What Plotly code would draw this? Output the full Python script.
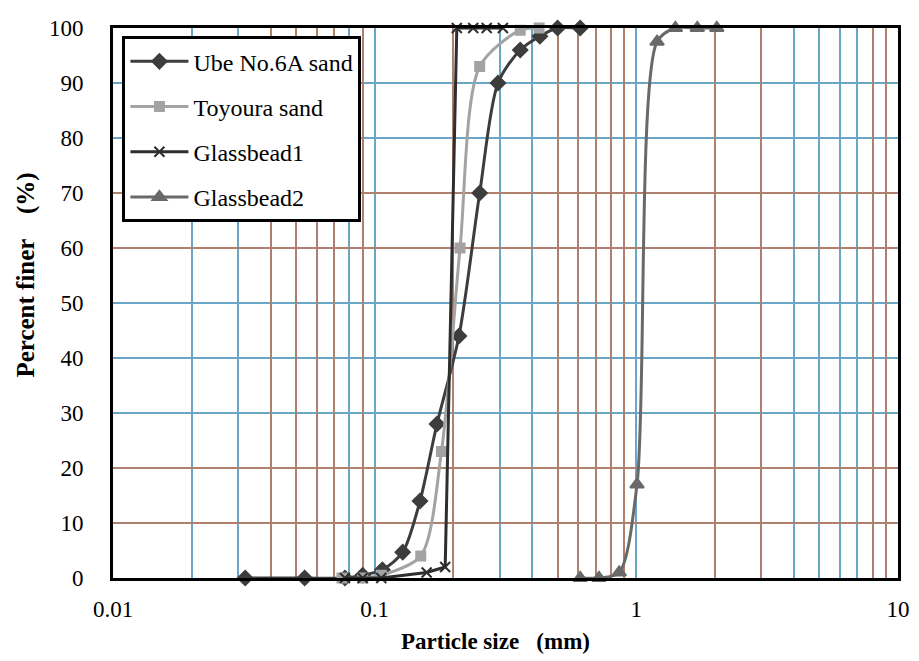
import plotly.graph_objects as go

# Grain size distribution curves
ube_size = [0.032, 0.054, 0.077, 0.09, 0.107, 0.128, 0.149, 0.173, 0.21, 0.252, 0.296, 0.36, 0.428, 0.5, 0.61]
ube_finer = [0, 0, 0, 0.5, 1.5, 4.7, 14, 28, 44, 70, 90, 96, 98.5, 100, 100]

toyoura_size = [0.075, 0.09, 0.106, 0.15, 0.18, 0.212, 0.252, 0.36, 0.425]
toyoura_finer = [0, 0, 0.5, 4, 23, 60, 93, 99.6, 100]

gb1_size = [0.077, 0.09, 0.106, 0.158, 0.186, 0.206, 0.238, 0.268, 0.309]
gb1_finer = [0, 0, 0, 1, 2, 100, 100, 100, 100]

gb2_size = [0.61, 0.72, 0.86, 1.006, 1.2, 1.41, 1.71, 2.03]
gb2_finer = [0, 0, 1, 17, 97.5, 100, 100, 100]

x_tick_vals = [0.01, 0.1, 1, 10]
x_tick_text = ["0.01", "0.1", "1", "10"]
y_tick_vals = list(range(0, 101, 10))

# Grid lines in two tints
x_grid_blue = [0.02, 0.03, 0.08, 0.1, 0.3, 0.4, 1, 4, 5, 6, 7]
x_grid_orange = [0.04, 0.05, 0.06, 0.07, 0.09, 0.2, 0.5, 0.6, 0.7, 0.8, 0.9, 2, 3, 8, 9]
y_grid_blue = [30, 40, 50, 80, 90]
y_grid_orange = [10, 20, 60, 70]

BLUE = "#6aa6c6"
ORANGE = "#b0806f"
SERIF = "Liberation Serif, Times New Roman, serif"

fig = go.Figure()

series = [
    ("Ube No.6A sand", ube_size, ube_finer, "#3d3d3d", "diamond", 11, "spline"),
    ("Toyoura sand", toyoura_size, toyoura_finer, "#a3a3a3", "square", 9, "spline"),
    ("Glassbead1", gb1_size, gb1_finer, "#2e2e2e", "x-thin-open", 10, "linear"),
    ("Glassbead2", gb2_size, gb2_finer, "#696969", "triangle-up", 12, "spline"),
]

# empty traces that own the grid-only overlay axes
fig.add_trace(go.Scatter(x=[], y=[], xaxis="x2", yaxis="y2", showlegend=False, hoverinfo="skip"))
fig.add_trace(go.Scatter(x=[], y=[], xaxis="x3", yaxis="y3", showlegend=False, hoverinfo="skip"))

for i, (name, xs, ys, col, sym, size, shape) in enumerate(series):
    fig.add_trace(go.Scatter(
        x=xs, y=ys, name=name, mode="lines+markers",
        line=dict(color=col, width=3, shape=shape, smoothing=0.8),
        marker=dict(symbol=sym, size=size, color=col,
                    line=dict(color=col, width=2)),
        cliponaxis=False, legendgroup=f"g{i}",
    ))

grid_axis = dict(showticklabels=False, ticks="", zeroline=False, showline=False, showgrid=True, gridwidth=2)

fig.update_layout(
    width=919, height=661,
    margin=dict(l=113, r=21, t=28, b=83),
    paper_bgcolor="white", plot_bgcolor="white",
    font=dict(family=SERIF, size=23, color="black"),
    showlegend=True,
    legend=dict(
        x=0.012, y=0.985, xanchor="left", yanchor="top",
        bgcolor="white", bordercolor="black", borderwidth=3,
        font=dict(family=SERIF, size=24, color="black"),
        tracegroupgap=11, itemwidth=58,
    ),
    xaxis=dict(
        type="log", range=[-2, 1], tickvals=x_tick_vals, ticktext=x_tick_text,
        showgrid=False, zeroline=False, showline=True, linecolor="black",
        linewidth=3, mirror=True, ticks="", ticklabelstandoff=8, automargin=False,
        tickfont=dict(family=SERIF, size=23),
    ),
    yaxis=dict(
        range=[0, 100], tickvals=y_tick_vals, showgrid=False, zeroline=False,
        showline=True, linecolor="black", linewidth=3, mirror=True, ticks="",
        ticklabelstandoff=22, automargin=False, tickfont=dict(family=SERIF, size=23),
    ),
    xaxis2=dict(type="log", range=[-2, 1], overlaying="x", anchor="y2", tickvals=x_grid_blue,
                gridcolor=BLUE, **grid_axis),
    yaxis2=dict(range=[0, 100], overlaying="y", anchor="x2", tickvals=y_grid_blue,
                gridcolor=BLUE, **grid_axis),
    xaxis3=dict(type="log", range=[-2, 1], overlaying="x", anchor="y3", tickvals=x_grid_orange,
                gridcolor=ORANGE, **grid_axis),
    yaxis3=dict(range=[0, 100], overlaying="y", anchor="x3", tickvals=y_grid_orange,
                gridcolor=ORANGE, **grid_axis),
    annotations=[
        dict(text="<b>Percent finer    (%)</b>", textangle=-90, showarrow=False,
             xref="paper", yref="paper", x=-0.112, y=0.55,
             xanchor="center", yanchor="middle", font=dict(family=SERIF, size=25)),
        dict(text="<b>Particle size   (mm)</b>", showarrow=False,
             xref="paper", yref="paper", x=0.487, y=-0.116,
             xanchor="center", yanchor="middle", font=dict(family=SERIF, size=23)),
    ],
)

fig.write_html("out.html")
